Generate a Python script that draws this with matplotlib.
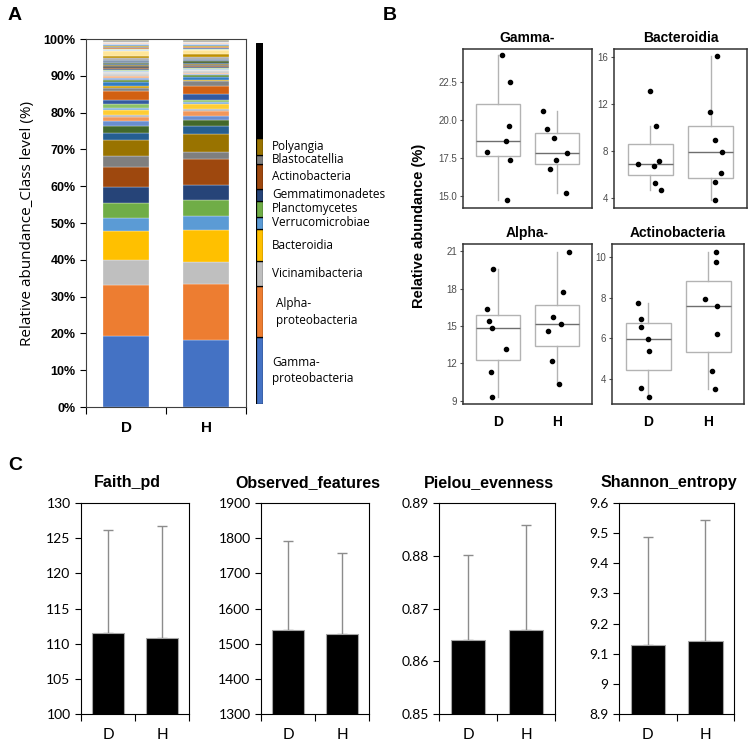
import numpy as np
import matplotlib
matplotlib.use('Agg')
import matplotlib.pyplot as plt
from matplotlib.ticker import FuncFormatter

# ── data: panel A (class-level relative abundance, % per group) ─────────────
groups = ['D', 'H']
named_classes = ['Gamma-\nproteobacteria', 'Alpha-\nproteobacteria', 'Vicinamibacteria',
                 'Bacteroidia', 'Verrucomicrobiae', 'Planctomycetes', 'Gemmatimonadetes',
                 'Actinobacteria', 'Blastocatellia', 'Polyangia']
d_abund = [19.3, 13.9, 6.9, 7.8, 3.6, 4.0, 4.4, 5.4, 2.9, 4.4,
           1.8, 2.1, 1.3, 1.1, 0.6, 1.3, 0.5, 1.1, 1.2, 2.3, 0.9, 0.6, 0.9, 0.6,
           0.5, 0.5, 0.8, 0.3, 0.4, 0.3, 0.3, 0.3, 0.4, 0.3, 0.4, 0.3,
           0.6, 0.7, 0.6, 1.2, 0.2, 0.3, 0.2, 0.2, 0.3, 0.2, 0.2, 0.2,
           0.2, 0.2, 0.2, 0.2, 0.2, 0.2, 0.2, 0.1]
h_abund = [18.2, 15.2, 6.1, 8.6, 3.8, 4.4, 4.0, 7.1, 2.0, 4.8,
           2.2, 1.6, 1.1, 1.3, 0.5, 1.4, 0.6, 0.6, 1.5, 2.1, 1.4, 0.4, 0.9, 0.4,
           0.3, 0.3, 0.5, 0.2, 0.3, 0.3, 0.3, 0.3, 0.3, 0.3, 0.3, 0.3,
           0.6, 0.7, 0.6, 1.1, 0.2, 0.2, 0.2, 0.2, 0.2, 0.2, 0.2, 0.2,
           0.2, 0.2, 0.2, 0.2, 0.2, 0.2, 0.2, 0.1]
# legend strip (share of each named class, rest = black)
legend_share = [18.1, 13.8, 6.8, 8.8, 3.3, 4.4, 3.3, 6.6, 2.6, 4.4, 25.9]

# ── data: panel B (per-sample relative abundance, %) ─────────────────────────
gamma_d = [24.3, 22.5, 19.65, 18.64, 17.93, 17.43, 14.74]
gamma_h = [20.59, 19.46, 18.87, 17.84, 17.38, 16.83, 15.24]
bact_d = [13.17, 10.15, 7.1, 6.92, 6.67, 5.24, 4.66]
bact_h = [16.14, 11.29, 8.96, 7.91, 6.08, 5.31, 3.8]
alpha_d = [19.58, 16.36, 15.4, 14.88, 13.17, 11.29, 9.3]
alpha_h = [20.97, 17.73, 15.72, 15.2, 14.64, 12.2, 10.35]
actino_d = [7.74, 6.95, 6.53, 5.96, 5.36, 3.54, 3.08]
actino_h = [10.23, 9.74, 7.92, 7.59, 6.21, 4.37, 3.49]
# jittered x positions
gamma_dx = [1.07, 1.20, 1.18, 1.13, 0.81, 1.20, 1.15]
gamma_hx = [1.77, 1.84, 1.96, 2.17, 1.99, 1.89, 2.16]
bact_dx = [0.99, 1.10, 1.15, 0.80, 1.06, 1.08, 1.17]
bact_hx = [2.11, 1.98, 2.07, 2.19, 2.17, 2.07, 2.07]
alpha_dx = [0.92, 0.81, 0.84, 0.89, 1.14, 0.88, 0.90]
alpha_hx = [2.20, 2.11, 1.93, 2.07, 1.85, 1.91, 2.03]
actino_dx = [0.83, 0.88, 0.89, 1.00, 1.02, 0.89, 1.02]
actino_hx = [2.14, 2.13, 1.95, 2.15, 2.15, 2.06, 2.12]

# ── data: panel C (alpha diversity, mean and SD) ─────────────────────────────
metrics = ['Faith_pd', 'Observed_features', 'Pielou_evenness', 'Shannon_entropy']
mean_d = [111.5, 1539, 0.864, 9.129]
mean_h = [110.85, 1527, 0.866, 9.142]
sd_d = [14.7, 254, 0.0162, 0.359]
sd_h = [15.85, 231, 0.0198, 0.403]

# ── styles ────────────────────────────────────────────────────────────────────
excel_cols = ['#4472C4', '#ED7D31', '#BFBFBF', '#FFC000', '#5B9BD5', '#70AD47',
              '#264478', '#9E480E', '#7F7F7F', '#997300', '#255E91', '#43682B',
              '#698ED0', '#F1975A', '#B7B7B7', '#FFCD33', '#7CAFDD', '#8CC168',
              '#335AA1', '#D26012', '#848484', '#CC9A00', '#327DC2', '#5A8A39',
              '#8FAADC', '#F4B183', '#C9C9C9', '#D9D9D9', '#9DC3E6', '#A9D18E',
              '#203864', '#843C0C', '#525252', '#7F6000', '#1F4E79', '#385723',
              '#8497B0', '#A6A6A6', '#BF9000', '#FFE699', '#BDD7EE', '#C5E0B4',
              '#2F5597', '#C55A11', '#7B7B7B', '#BF9000', '#2E75B6', '#548235',
              '#B4C7E7', '#F8CBAD', '#DBDBDB', '#FFF2CC', '#8C8C8C', '#A9A57C',
              '#F4B183', '#7F7F7F']
FIG_W, FIG_H = 753, 750
BOLD_FONT = 'Liberation Sans'


def px_axes(l, t, r, b):
    return fig.add_axes([l / FIG_W, 1 - b / FIG_H, (r - l) / FIG_W, (b - t) / FIG_H])


fig = plt.figure(figsize=(7.53, 7.5), dpi=100)
fig.patch.set_facecolor('white')

# ── panel A ───────────────────────────────────────────────────────────────────
axA = px_axes(86, 39, 246, 407)
d_pct = np.array(d_abund) / sum(d_abund) * 100
h_pct = np.array(h_abund) / sum(h_abund) * 100
cum = np.zeros(2)
for i in range(len(d_pct)):
    vals = np.array([d_pct[i], h_pct[i]])
    axA.bar([0, 1], vals, bottom=cum, width=0.575, color=excel_cols[i],
            edgecolor='white', linewidth=0.2)
    cum += vals
axA.set_xlim(-0.5, 1.5)
axA.set_ylim(0, 100)
axA.set_yticks(np.arange(0, 101, 10))
axA.yaxis.set_major_formatter(FuncFormatter(lambda v, p: f'{v:.0f}%'))
axA.set_xticks([-0.5, 0.5, 1.5])
axA.set_xticklabels(['', '', ''])
axA.set_xticks([0, 1], minor=True)
axA.set_xticklabels(groups, minor=True, fontsize=11, fontweight='bold', family=BOLD_FONT)
axA.tick_params(axis='x', which='minor', length=0, pad=10)
axA.tick_params(axis='x', which='major', length=5, width=0.8)
axA.tick_params(axis='y', length=4, width=0.8, labelsize=9)
for t in axA.get_yticklabels():
    t.set_fontweight('bold')
    t.set_family(BOLD_FONT)
for s in axA.spines.values():
    s.set_color('#404040')
    s.set_linewidth(0.8)
axA.set_ylabel('Relative abundance_Class level (%)', fontsize=11, family='Open Sans',
               labelpad=6)

# legend strip
axL = px_axes(256, 43, 263, 404)
legend_cols = excel_cols[:10] + ['black']
lb = 0
for i, v in enumerate(legend_share):
    axL.bar(0, v, bottom=lb, width=1, color=legend_cols[i], edgecolor='black', linewidth=0.9)
    if i < len(named_classes):
        xo = 2.8 if i == 1 else 2.3
        axL.text(xo, lb + v / 2, named_classes[i], transform=axL.get_yaxis_transform(),
                 ha='left', va='center', fontsize=8.5, family='Open Sans',
                 linespacing=1.35, clip_on=False)
    lb += v
axL.set_xlim(-0.5, 0.5)
axL.set_ylim(0, lb)
axL.axis('off')

# ── panel B ───────────────────────────────────────────────────────────────────
def box_panel(ax, dv, hv, dx, hx, ylim, yticks, ylabs, title, show_x):
    ax.boxplot([dv, hv], positions=[1, 2], widths=0.75, whis=1.5, showfliers=False,
               patch_artist=True,
               boxprops=dict(facecolor='white', edgecolor='#b3b3b3', linewidth=1),
               medianprops=dict(color='#6e6e6e', linewidth=1),
               whiskerprops=dict(color='#b3b3b3', linewidth=1),
               capprops=dict(linewidth=0))
    ax.scatter(dx, dv, s=9, color='black', zorder=3)
    ax.scatter(hx, hv, s=9, color='black', zorder=3)
    ax.set_xlim(0.4, 2.6)
    ax.set_ylim(*ylim)
    ax.set_yticks(yticks)
    ax.set_yticklabels(ylabs, fontsize=7, color='#4d4d4d', family='Liberation Sans')
    ax.tick_params(axis='y', length=2, color='#4d4d4d', pad=2)
    if show_x:
        ax.set_xticks([1, 2])
        ax.set_xticklabels(groups, fontsize=10, fontweight='bold', family=BOLD_FONT)
        ax.tick_params(axis='x', length=0, pad=8)
    else:
        ax.set_xticks([])
    for s in ax.spines.values():
        s.set_color('#333333')
        s.set_linewidth(1.1)
    ax.set_title(title, fontsize=10, fontweight='bold', family=BOLD_FONT, pad=5)


axB1 = px_axes(463, 49, 592, 208)
box_panel(axB1, gamma_d, gamma_h, gamma_dx, gamma_hx, (14.24, 24.7),
          [15, 17.5, 20, 22.5], ['15.0', '17.5', '20.0', '22.5'], 'Gamma-', False)
axB2 = px_axes(614, 49, 747, 208)
box_panel(axB2, bact_d, bact_h, bact_dx, bact_hx, (3.12, 16.72),
          [4, 8, 12, 16], ['4', '8', '12', '16'], 'Bacteroidia', False)
axB3 = px_axes(463, 244, 592, 404)
box_panel(axB3, alpha_d, alpha_h, alpha_dx, alpha_hx, (8.73, 21.6),
          [9, 12, 15, 18, 21], ['9', '12', '15', '18', '21'], 'Alpha-', True)
axB4 = px_axes(612, 244, 744, 404)
box_panel(axB4, actino_d, actino_h, actino_dx, actino_hx, (2.75, 10.64),
          [4, 6, 8, 10], ['4', '6', '8', '10'], 'Actinobacteria', True)
fig.text(419 / FIG_W, 1 - 226 / FIG_H, 'Relative abundance (%)', rotation=90,
         ha='center', va='center', fontsize=10.5, fontweight='bold', family=BOLD_FONT)

# ── panel C ───────────────────────────────────────────────────────────────────
c_boxes = [(81, 189), (261, 369), (439, 555), (619, 734)]
c_ylims = [(100, 130), (1300, 1900), (0.85, 0.89), (8.9, 9.6)]
c_steps = [5, 100, 0.01, 0.1]
for k, name in enumerate(metrics):
    l, r = c_boxes[k]
    ax = px_axes(l, 503, r, 714)
    ax.bar([0, 1], [mean_d[k], mean_h[k]], width=0.6, color='black',
           edgecolor='#a6a6a6', linewidth=0.8, zorder=2)
    ax.errorbar([0, 1], [mean_d[k], mean_h[k]], yerr=[[0, 0], [sd_d[k], sd_h[k]]],
                fmt='none', ecolor='#8c8c8c', elinewidth=1, capsize=3.6, capthick=1, zorder=1)
    lo, hi = c_ylims[k]
    ax.set_ylim(lo, hi)
    ax.set_xlim(-0.5, 1.5)
    ax.set_yticks(np.arange(lo, hi + c_steps[k] / 2, c_steps[k]))
    ax.yaxis.set_major_formatter(FuncFormatter(lambda v, p: f'{round(v, 4):g}'))
    ax.tick_params(axis='y', length=4, width=0.8, labelsize=10)
    for t in ax.get_yticklabels():
        t.set_family('Lato')
    ax.set_xticks([-0.5, 0.5, 1.5])
    ax.set_xticklabels(['', '', ''])
    ax.set_xticks([0, 1], minor=True)
    ax.set_xticklabels(groups, minor=True, fontsize=11, family='Lato')
    ax.tick_params(axis='x', which='minor', length=0, pad=10)
    ax.tick_params(axis='x', which='major', length=5, width=0.8)
    for s in ax.spines.values():
        s.set_color('black')
        s.set_linewidth(0.8)
    ax.text(0.43, 1 + 20 / 211, name, transform=ax.transAxes, ha='center', va='center',
            fontsize=11.5, fontweight='bold', family=BOLD_FONT)

# ── panel letters ─────────────────────────────────────────────────────────────
for lab, x, y in [('A', 15, 15), ('B', 390, 15), ('C', 15, 466)]:
    fig.text(x / FIG_W, 1 - y / FIG_H, lab, ha='center', va='center',
             fontsize=14, fontweight='bold', family=BOLD_FONT)

plt.savefig('out.png', dpi=100, facecolor='white')
plt.close()
